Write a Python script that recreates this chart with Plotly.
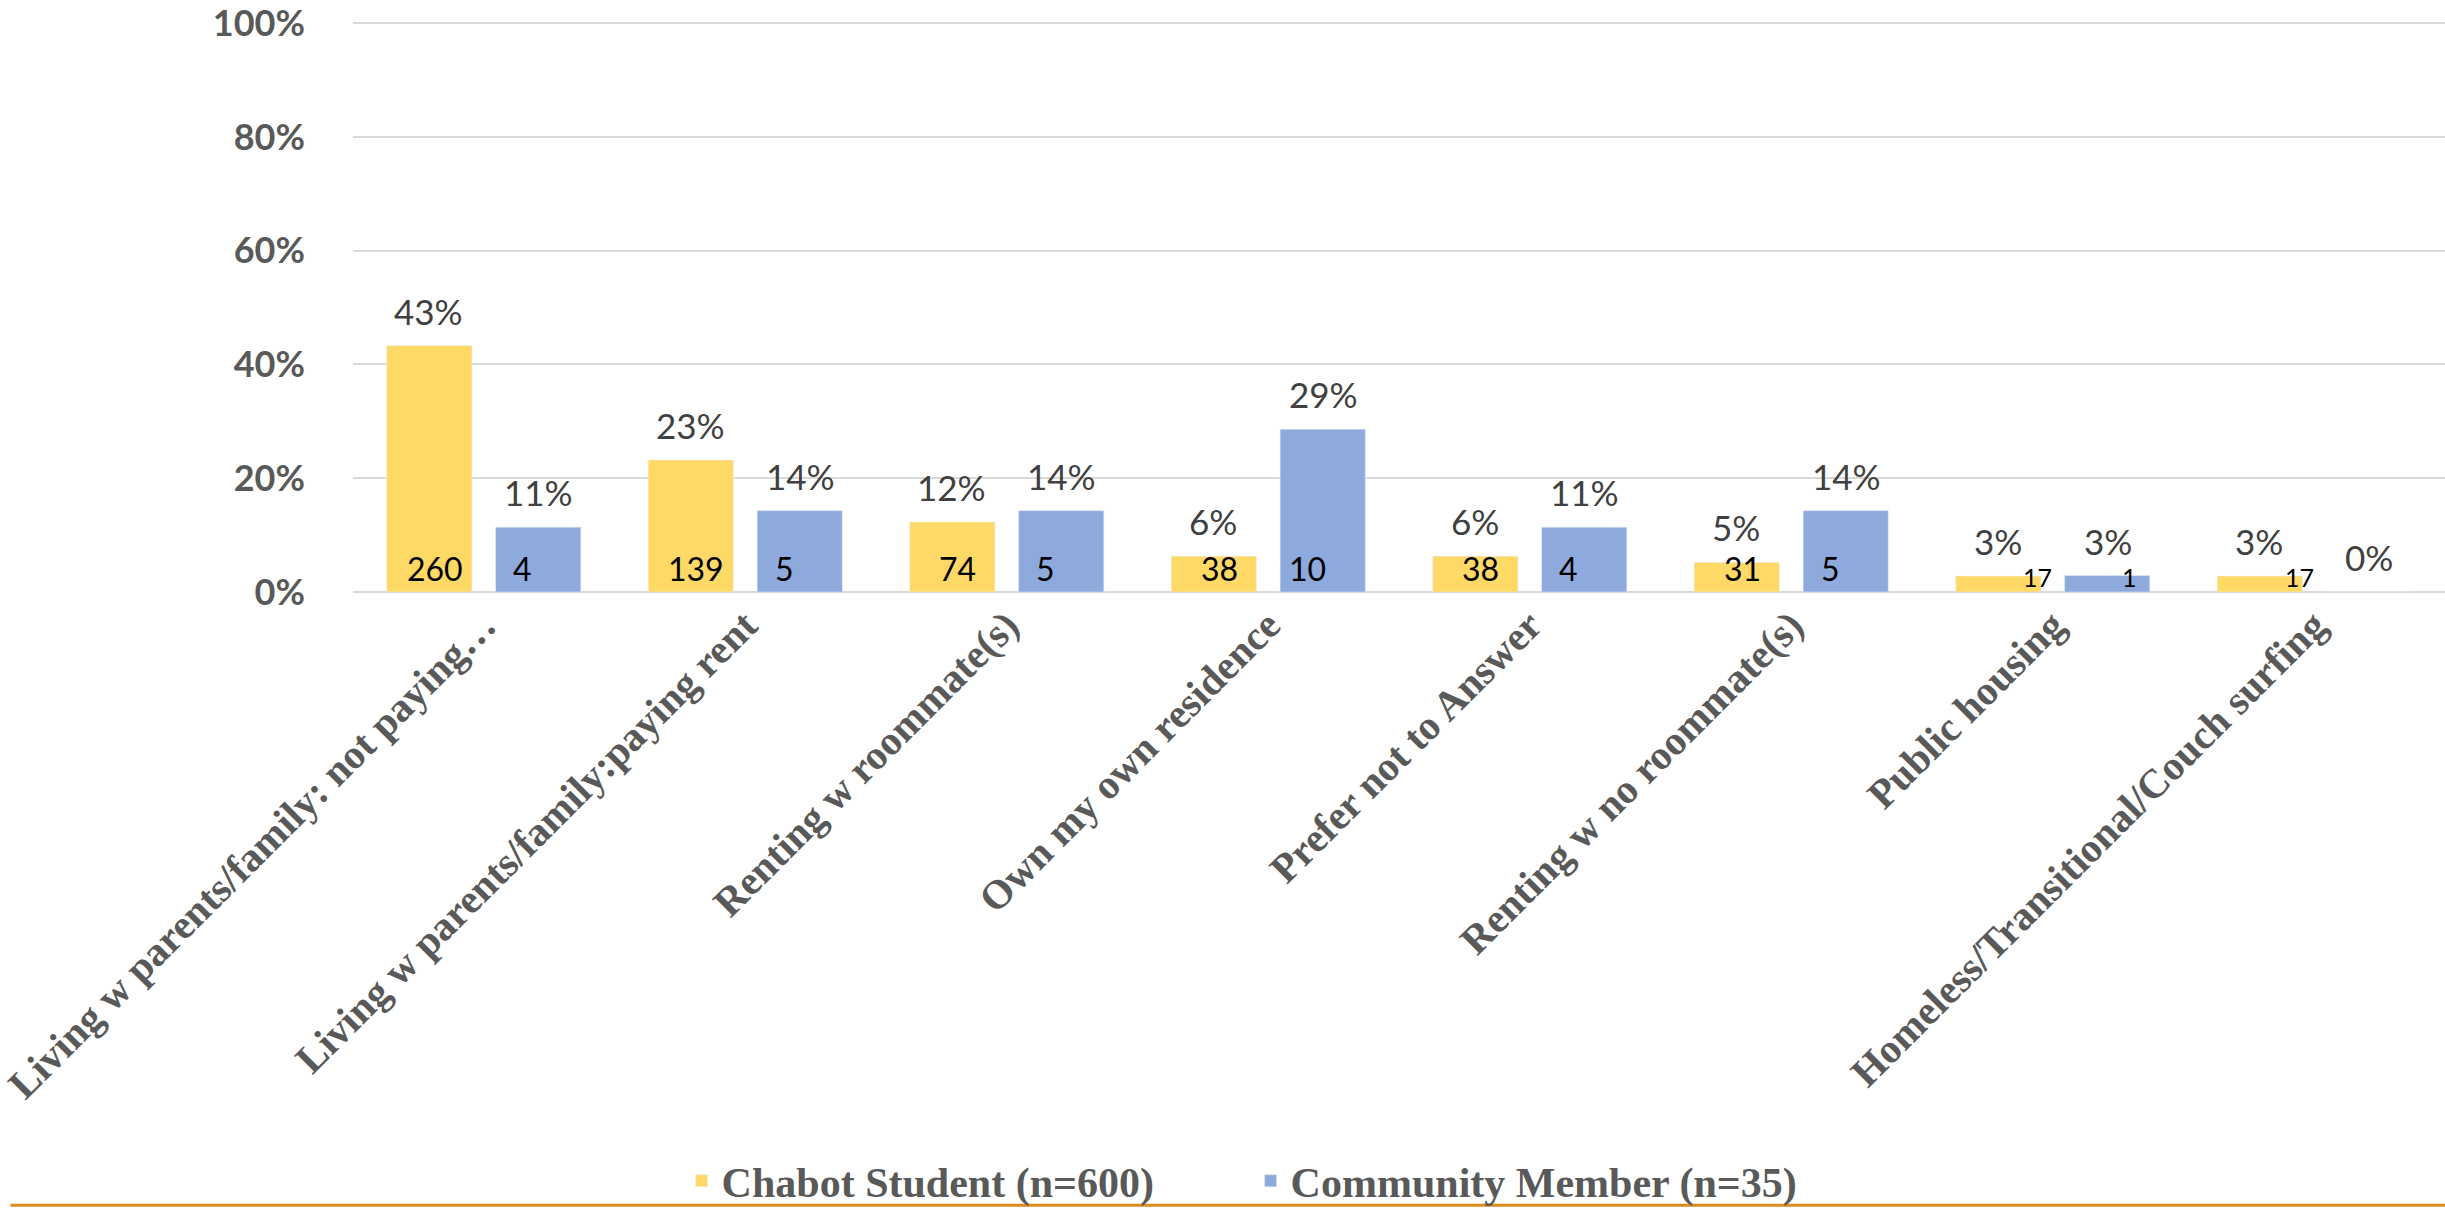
import plotly.graph_objects as go

categories = [
    "Living w parents/family: not paying…",
    "Living w parents/family:paying rent",
    "Renting w roommate(s)",
    "Own my own residence",
    "Prefer not to Answer",
    "Renting w no roommate(s)",
    "Public housing",
    "Homeless/Transitional/Couch surfing",
]
student_name = "Chabot Student (n=600)"
community_name = "Community Member (n=35)"
student_pct = [43.3, 23.2, 12.3, 6.3, 6.3, 5.2, 2.8, 2.8]
community_pct = [11.4, 14.3, 14.3, 28.6, 11.4, 14.3, 2.9, 0.0]
student_count = [260, 139, 74, 38, 38, 31, 17, 17]
community_count = [4, 5, 5, 10, 4, 5, 1, 0]
y_ticks = [0, 20, 40, 60, 80, 100]
y_tick_labels = ["0%", "20%", "40%", "60%", "80%", "100%"]

YELLOW = "#FFD966"
BLUE = "#8EA9DB"
W, H = 2445, 1210
ML, MR, MT, MB = 344, 0, 19, 618
plot_h = H - MT - MB

fig = go.Figure()
fig.add_trace(go.Bar(name=student_name, x=categories, y=student_pct,
                     marker_color=YELLOW, hoverinfo="skip"))
fig.add_trace(go.Bar(name=community_name, x=categories, y=community_pct,
                     marker_color=BLUE, hoverinfo="skip"))

SLOT = 55  # half slot offset in px
annotations = []
for i, c in enumerate(categories):
    for pct, cnt, sign, is_student in ((student_pct[i], student_count[i], -1, True),
                                       (community_pct[i], community_count[i], 1, False)):
        annotations.append(dict(
            x=c, y=pct, xref="x", yref="y", text=f"{round(pct)}%",
            showarrow=False, xshift=sign * SLOT, yanchor="bottom", yshift=12,
            font=dict(family="Lato", size=35, color="#404040")))
        if cnt > 0:
            small = pct < 4
            if is_student:
                dx = sign * SLOT + (40 if small else 6)
            else:
                dx = sign * SLOT + (22 if small else -16)
            annotations.append(dict(
                x=c, y=0, xref="x", yref="y", text=str(cnt),
                showarrow=False, xshift=dx, yanchor="bottom",
                yshift=(-2 if small else 2),
                font=dict(family="Lato", size=(25 if small else 32), color="#000000")))

line_y = -(MB - 1.5) / plot_h
fig.update_layout(
    width=W, height=H,
    margin=dict(l=ML, r=MR, t=MT, b=MB),
    paper_bgcolor="white", plot_bgcolor="white",
    barmode="group", bargap=0.167, bargroupgap=0.218,
    showlegend=True,
    legend=dict(orientation="h", xref="container", yref="container",
                x=0.5115, xanchor="center", y=0.024, yanchor="middle",
                bgcolor="rgba(0,0,0,0)",
                font=dict(family="Liberation Serif", size=42, color="#595959",
                          weight="bold"),
                entrywidth=524, entrywidthmode="pixels",
                itemwidth=30, traceorder="normal"),
    annotations=annotations,
    shapes=[dict(type="line", xref="paper", yref="paper",
                 x0=-ML / (W - ML - MR), x1=1.0, y0=line_y, y1=line_y,
                 line=dict(color="#E08A1E", width=3))],
)
fig.update_yaxes(range=[0, 100.2], tickmode="array", tickvals=y_ticks,
                 ticktext=y_tick_labels, ticklabeloverflow="allow",
                 showgrid=True, gridcolor="#D9D9D9", gridwidth=2,
                 zeroline=True, zerolinecolor="#D9D9D9", zerolinewidth=2,
                 ticklabelstandoff=47,
                 tickfont=dict(family="Lato", size=36, color="#595959", weight="bold"))
fig.update_xaxes(tickangle=-45, showgrid=False, showline=False,
                 tickfont=dict(family="Liberation Serif", size=41, color="#595959",
                               weight="bold"))

fig.write_html("out.html", config={"displayModeBar": False},
               post_script="document.body.style.margin='0';document.body.style.overflow='hidden';")
